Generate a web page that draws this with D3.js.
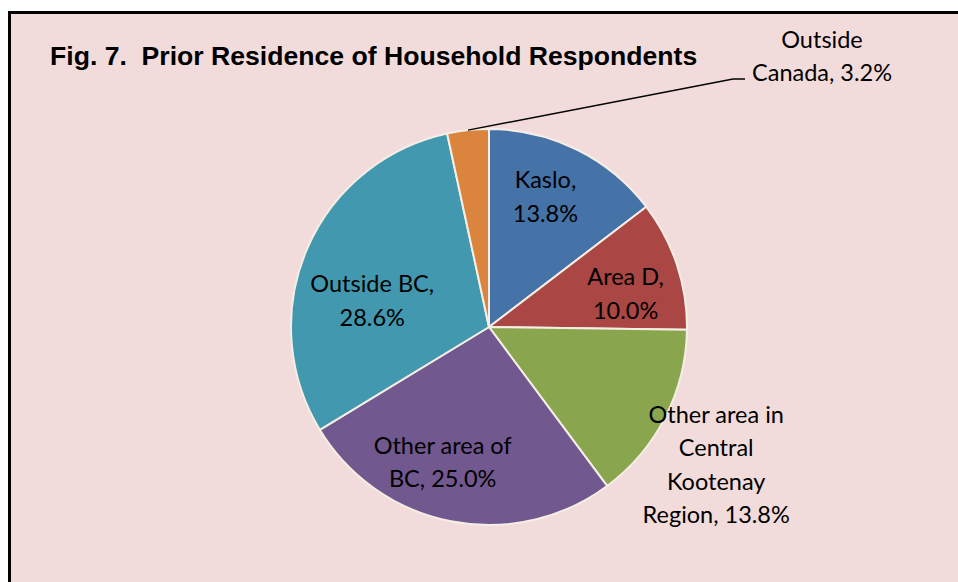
<!DOCTYPE html>
<html>
<head>
<meta charset="utf-8">
<script src="https://cdn.jsdelivr.net/npm/d3@7"></script>
<style>
  html, body { margin: 0; padding: 0; background: #fff; }
  svg { display: block; }
</style>
</head>
<body>
<div id="mainDiv"></div>
<script>
'use strict';

// data
var categories = ['Kaslo', 'Area D', 'Other area in Central Kootenay Region',
                  'Other area of BC', 'Outside BC', 'Outside Canada'];
var percents   = [13.8, 10.0, 13.8, 25.0, 28.6, 3.2];
var labelLines = [
    ['Kaslo,', '13.8%'],
    ['Area D,', '10.0%'],
    ['Other area in', 'Central', 'Kootenay', 'Region, 13.8%'],
    ['Other area of', 'BC, 25.0%'],
    ['Outside BC,', '28.6%'],
    ['Outside', 'Canada, 3.2%']
];
var colores = ['#4572A7', '#AA4643', '#89A54E', '#71588F', '#4198AF', '#DB843D'];

var myApp = {};

myApp.width  = 958;
myApp.height = 582;
myApp.centro = { x: 489, y: 327 };
myApp.raio   = 198;

// label placement: radius factor + small nudge, per slice (layout only)
myApp.labelPos = [
    { k: 0.70, dx: -5,  dy: -5 },
    { k: 0.70, dx: 5,   dy: 11.5 },
    { k: 1.30, dx: -2,  dy: 22 },
    { k: 0.72, dx: -19, dy: -3.5 },
    { k: 0.62, dx: -4,  dy: 23.5 },
    { k: 1.00, dx: 0,   dy: 0 }
];

myApp.appendSvg = function(div)
{
    var svg = d3.select(div).append('svg')
        .attr('width', myApp.width)
        .attr('height', myApp.height);

    svg.append('rect')
        .attr('x', 9.5).attr('y', 12.5)
        .attr('width', myApp.width + 20).attr('height', myApp.height + 20)
        .attr('fill', '#F2DCDB')
        .attr('stroke', '#000')
        .attr('stroke-width', 3);

    return svg;
}

myApp.appendTitle = function(svg)
{
    svg.append('text')
        .attr('x', 50)
        .attr('y', 65)
        .attr('font-family', 'Liberation Sans, Arial, sans-serif')
        .attr('font-weight', 'bold')
        .attr('font-size', 26.6)
        .attr('fill', '#000')
        .attr('xml:space', 'preserve')
        .text('Fig. 7.  Prior Residence of Household Respondents');
}

myApp.appendPie = function(svg)
{
    var dados = categories.map(function(c, i) {
        return { nome: c, valor: percents[i], linhas: labelLines[i], cor: colores[i], idx: i };
    });

    var pie = d3.pie().sort(null).value(function(d) { return d.valor; });
    var arcs = pie(dados);

    var arc = d3.arc().innerRadius(0).outerRadius(myApp.raio);

    var g = svg.append('g')
        .attr('transform', 'translate(' + myApp.centro.x + ',' + myApp.centro.y + ')');

    g.selectAll('path.fatia')
        .data(arcs)
        .enter()
        .append('path')
        .attr('class', 'fatia')
        .attr('d', arc)
        .attr('fill', function(d) { return d.data.cor; })
        .attr('stroke', '#F4EEE4')
        .attr('stroke-width', 2)
        .attr('stroke-linejoin', 'round');

    // leader line for the small slice
    var ultimo = arcs[arcs.length - 1];
    var meio = (ultimo.startAngle + ultimo.endAngle) / 2;
    var p0 = [myApp.raio * Math.sin(meio), -myApp.raio * Math.cos(meio)];
    var p1 = [244, -248];
    var p2 = [256, -248];
    g.append('polyline')
        .attr('points', [p0, p1, p2].map(function(p) { return p.join(','); }).join(' '))
        .attr('fill', 'none')
        .attr('stroke', '#000')
        .attr('stroke-width', 1.5);

    var lineH = 33.5;
    var labels = g.selectAll('text.rotulo')
        .data(arcs)
        .enter()
        .append('text')
        .attr('class', 'rotulo')
        .attr('font-family', 'Lato, Carlito, Calibri, sans-serif')
        .attr('font-size', 23.5)
        .attr('fill', '#000')
        .attr('text-anchor', 'middle')
        .attr('transform', function(d) {
            var lp = myApp.labelPos[d.data.idx];
            var a = (d.startAngle + d.endAngle) / 2;
            var r = myApp.raio * lp.k;
            var x = r * Math.sin(a) + lp.dx;
            var y = -r * Math.cos(a) + lp.dy;
            if (d.data.idx === 5) { x = 333; y = -269.5; }
            return 'translate(' + x + ',' + y + ')';
        });

    labels.each(function(d) {
        var n = d.data.linhas.length;
        var t = d3.select(this);
        d.data.linhas.forEach(function(l, i) {
            t.append('tspan')
                .attr('x', 0)
                .attr('y', (i - (n - 1) / 2) * lineH + 7)
                .text(l);
        });
    });
}

myApp.run = function()
{
    var svg = myApp.appendSvg('#mainDiv');
    myApp.appendTitle(svg);
    myApp.appendPie(svg);
}

window.onload = function() {
    myApp.run();
};
</script>
</body>
</html>
